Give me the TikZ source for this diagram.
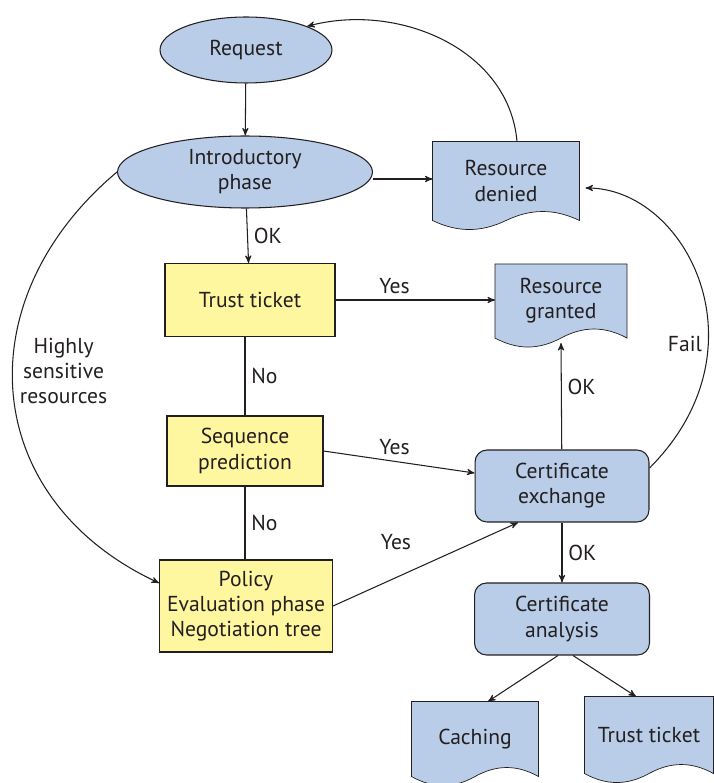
\documentclass[tikz,border=0pt]{standalone}
\usepackage{fontspec}
\setmainfont{PT Sans}
\usetikzlibrary{positioning,arrows,shapes.geometric,calc,backgrounds}
\definecolor{docblue}{RGB}{185,205,232}
\definecolor{boxyellow}{RGB}{255,246,160}
\definecolor{inkgray}{RGB}{35,31,32}

\begin{document}
\begin{tikzpicture}[->,>=stealth',x=0.02cm,y=0.02cm,line width=0.6pt,
                    draw=inkgray]
  \tikzstyle{every node}=[font=\fontsize{12.3}{14.3}\selectfont,text=inkgray]
  \tikzstyle{phase}=[ellipse,draw=inkgray,fill=docblue,inner sep=0pt,align=center]
  \tikzstyle{test}=[rectangle,draw=inkgray,fill=boxyellow,align=center]
  \tikzstyle{cert}=[rectangle,rounded corners=0.24cm,draw=inkgray,fill=docblue,align=center]
  \tikzstyle{doc}=[rectangle,inner sep=0pt,align=center]
  \tikzstyle{wave}=[-,draw=inkgray,fill=docblue]

  \useasboundingbox (0,0) rectangle (713,-783);

  \node[phase,minimum width=3.44cm,minimum height=1.32cm] (request) at (246,-50)  {Request};
  \node[phase,minimum width=5.1cm,minimum height=1.44cm]  (intro)   at (245,-172) {Introductory\\phase};
  \node[test,minimum width=3.4cm,minimum height=1.46cm]   (trust)   at (250,-300) {Trust ticket};
  \node[test,minimum width=3.12cm,minimum height=1.4cm]   (seq)     at (245,-451) {Sequence\\prediction};
  \node[test,minimum width=3.46cm,minimum height=1.84cm]  (policy)  at (246,-606) {Policy\\Evaluation phase\\Negotiation tree};
  \node[cert,minimum width=3.48cm,minimum height=1.44cm]  (certx)   at (562,-486) {Certificate\\exchange};
  \node[cert,minimum width=3.5cm,minimum height=1.44cm]   (certa)   at (562,-619) {Certificate\\analysis};
  \node[doc,minimum width=2.92cm,minimum height=1.56cm]   (denied)  at (506,-181) {Resource\\denied};
  \node[doc,minimum width=2.62cm,minimum height=1.46cm]   (granted) at (561,-301) {Resource\\granted};
  \node[doc,minimum width=2.52cm,minimum height=1.48cm]   (caching) at (475,-739) {Caching};
  \node[doc,minimum width=2.56cm,minimum height=1.52cm]   (ticket)  at (649,-735) {Trust ticket};

  % document outlines with wavy bottom
  \begin{scope}[on background layer]
    \foreach \d in {denied,granted,caching,ticket}
      \draw[wave] (\d.north west) -- (\d.north east) -- (\d.south east)
        .. controls ($(\d.south east)!0.17!(\d.south west)+(0,12)$)
               and ($(\d.south east)!0.33!(\d.south west)+(0,12)$) .. ($(\d.south east)!0.5!(\d.south west)$)
        .. controls ($(\d.south east)!0.67!(\d.south west)+(0,-12)$)
               and ($(\d.south east)!0.83!(\d.south west)+(0,-12)$) .. (\d.south west) -- cycle;
  \end{scope}

  \draw (request) -- (intro);
  \draw (intro) -- node[right] {OK} (trust);
  \draw ([yshift=-0.14cm]intro.east) -- ([yshift=-0.14cm]intro.east -| denied.west);
  \draw ([xshift=0.22cm]denied.north) to[out=95,in=15] (request.north east);
  \draw (trust.east) -- node[above,pos=0.37] {Yes} (trust.east -| granted.west);
  \draw[-] (seq.north |- trust.south) -- node[right] {No} (seq.north);
  \draw (seq.east) -- node[above,pos=0.47] {Yes} ([yshift=0.26cm]certx.west);
  \draw[-] (seq.south) -- node[right] {No} (seq.south |- policy.north);
  \draw (policy.east) -- node[above=0.42cm,pos=0.34] {Yes} ([xshift=-0.88cm]certx.south);
  \draw (certx) -- node[right,pos=0.59] {OK} ([yshift=-0.1cm]granted.south);
  \draw (certx) -- node[right] {OK} (certa);
  \draw ([xshift=-0.08cm]certa.south) -- ([xshift=0.26cm]caching.north);
  \draw ([xshift=0.22cm]certa.south) -- ([xshift=-0.26cm]ticket.north);
  \draw ([yshift=0.36cm]certx.east) to[out=45,in=0,out looseness=1.5,in looseness=0.9]
        node[pos=0.33,left] {Fail} ([xshift=0.12cm,yshift=-0.14cm]denied.east);
  \draw (intro.west) to[out=220,in=155,looseness=1.23]
        node[pos=0.45,right=0.02cm,align=center] {Highly\\sensitive\\resources} ([yshift=0.46cm]policy.west);
\end{tikzpicture}
\end{document}
